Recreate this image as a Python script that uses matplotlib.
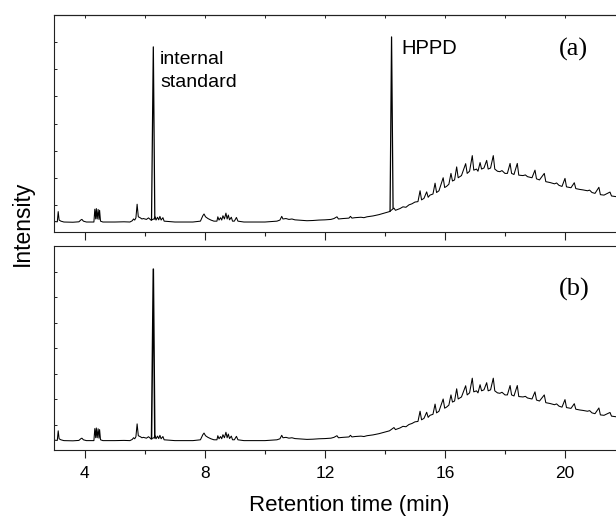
import matplotlib
matplotlib.use('Agg')
import matplotlib.pyplot as plt
from matplotlib.ticker import MultipleLocator, FixedLocator, NullFormatter

plt.rcParams['font.family'] = ['Liberation Sans', 'DejaVu Sans']

# chromatogram trace shared by both runs (retention time, relative intensity)
trace_t = [3.0, 3.08, 3.11, 3.14, 3.2, 3.3, 3.6, 3.8, 3.87, 3.9, 3.95, 4.05,
           4.3, 4.33, 4.36, 4.38, 4.41, 4.44, 4.47, 4.49, 4.52, 4.6, 5.0, 5.3,
           5.5, 5.58, 5.62, 5.66, 5.7, 5.74, 5.78, 5.85, 5.9, 5.95, 6.05, 6.12,
           6.2, 6.3, 6.34, 6.37, 6.42, 6.46, 6.5, 6.54, 6.6, 6.64, 6.8, 7.0,
           7.3, 7.6, 7.85, 7.93, 7.97, 8.02, 8.1, 8.2, 8.3, 8.4, 8.43, 8.47,
           8.52, 8.56, 8.6, 8.65, 8.7, 8.74, 8.78, 8.82, 8.88, 8.92, 8.98, 9.05,
           9.1, 9.3, 9.6, 10.0, 10.2, 10.4, 10.5, 10.56, 10.6, 10.7, 10.8, 10.9,
           11.0, 11.2, 11.4, 11.6, 11.8, 12.0, 12.2, 12.3, 12.4, 12.45, 12.6, 12.8,
           12.85, 12.9, 13.0, 13.2, 13.3, 13.4, 13.6, 13.8, 14.0, 14.15, 14.3, 14.35,
           14.5, 14.6, 14.7, 14.8, 14.9, 15.0, 15.1, 15.17, 15.22, 15.3, 15.39, 15.44,
           15.5, 15.6, 15.67, 15.72, 15.8, 15.94, 15.99, 16.05, 16.13, 16.2, 16.25, 16.32,
           16.39, 16.44, 16.55, 16.69, 16.74, 16.82, 16.91, 16.96, 17.05, 17.1, 17.17, 17.22,
           17.3, 17.39, 17.44, 17.52, 17.61, 17.66, 17.75, 17.83, 17.9, 18.0, 18.08, 18.17,
           18.22, 18.3, 18.41, 18.46, 18.6, 18.68, 18.75, 18.9, 19.0, 19.05, 19.15, 19.31,
           19.36, 19.5, 19.65, 19.72, 19.8, 19.9, 20.0, 20.05, 20.2, 20.31, 20.36, 20.5,
           20.6, 20.75, 20.82, 20.9, 21.0, 21.13, 21.18, 21.3, 21.5, 21.55, 21.7]
trace_y = [0.048, 0.047, 0.094, 0.055, 0.05, 0.046, 0.045, 0.047, 0.056, 0.058, 0.05, 0.046,
           0.046, 0.105, 0.06, 0.108, 0.06, 0.104, 0.058, 0.1, 0.05, 0.046, 0.046, 0.047,
           0.046, 0.052, 0.06, 0.055, 0.065, 0.128, 0.07, 0.065, 0.06, 0.062, 0.058, 0.065,
           0.055, 0.06, 0.07, 0.055, 0.068, 0.056, 0.072, 0.055, 0.066, 0.05, 0.048, 0.046,
           0.046, 0.046, 0.05, 0.075, 0.083, 0.07, 0.062, 0.055, 0.05, 0.05, 0.07, 0.055,
           0.066, 0.055, 0.075, 0.06, 0.087, 0.06, 0.078, 0.056, 0.068, 0.05, 0.05, 0.067,
           0.05, 0.046, 0.046, 0.046, 0.048, 0.05, 0.055, 0.072, 0.06, 0.062, 0.058, 0.06,
           0.056, 0.054, 0.052, 0.053, 0.055, 0.056, 0.058, 0.062, 0.07, 0.06, 0.062, 0.064,
           0.072, 0.064, 0.066, 0.068, 0.066, 0.07, 0.074, 0.08, 0.088, 0.094, 0.11, 0.1,
           0.108, 0.116, 0.114, 0.125, 0.13, 0.138, 0.14, 0.19, 0.148, 0.155, 0.185, 0.16,
           0.17, 0.175, 0.225, 0.182, 0.19, 0.25, 0.205, 0.21, 0.22, 0.27, 0.235, 0.24,
           0.3, 0.25, 0.26, 0.315, 0.27, 0.28, 0.352, 0.285, 0.29, 0.28, 0.32, 0.29,
           0.295, 0.33, 0.29, 0.295, 0.352, 0.29, 0.28, 0.278, 0.283, 0.27, 0.27, 0.316,
           0.27, 0.265, 0.316, 0.262, 0.26, 0.263, 0.255, 0.25, 0.285, 0.245, 0.24, 0.27,
           0.232, 0.228, 0.222, 0.226, 0.215, 0.21, 0.247, 0.208, 0.204, 0.227, 0.2, 0.196,
           0.194, 0.19, 0.193, 0.182, 0.178, 0.206, 0.172, 0.17, 0.184, 0.166, 0.163]

# tall peaks
is_t = [6.22, 6.28, 6.33]
is_a = [0.055, 0.853, 0.06]
is_b = [0.055, 0.887, 0.06]
hppd_t = [14.17, 14.22, 14.27]
hppd_a = [0.095, 0.899, 0.11]

W, H = 616, 516
fig = plt.figure(figsize=(W / 100, H / 100), dpi=100)
left = 54 / W
ax1 = fig.add_axes([left, 1 - 232 / H, 1 - left, 217 / H])
ax2 = fig.add_axes([left, 1 - 450 / H, 1 - left, 204 / H])

for ax in (ax1, ax2):
    ax.plot(trace_t, trace_y, color='black', lw=0.75)
    ax.set_xlim(2.97, 21.7)
    ax.set_ylim(0, 1)
    ax.spines['right'].set_visible(False)
    for s in ('left', 'top', 'bottom'):
        ax.spines[s].set_linewidth(0.8)
        ax.spines[s].set_color('#222222')
    ax.xaxis.set_major_locator(MultipleLocator(4))
    ax.xaxis.set_minor_locator(MultipleLocator(2))
    ax.yaxis.set_major_locator(FixedLocator([k / 8 for k in range(1, 8)]))
    ax.yaxis.set_major_formatter(NullFormatter())
    ax.tick_params(axis='y', which='both', direction='in', length=2, width=0.7,
                   left=True, right=False, color='#222222')
    ax.tick_params(axis='x', which='major', direction='out', length=5.8, width=0.8,
                   color='#222222', labelsize=12.5, pad=6)
    ax.tick_params(axis='x', which='minor', direction='out', length=3.2, width=0.8,
                   color='#222222')

ax1.plot(is_t, is_a, color='black', lw=0.9)
ax1.plot(hppd_t, hppd_a, color='black', lw=0.9)
ax2.plot(is_t, is_b, color='black', lw=1.1)

ax1.tick_params(axis='x', which='both', labelbottom=False)

# small inward ticks along the top edge of panel (a)
sec = ax1.secondary_xaxis('top')
sec.xaxis.set_major_locator(MultipleLocator(2))
sec.tick_params(direction='in', length=2, width=0.7, labeltop=False, color='#222222')
sec.spines['top'].set_linewidth(0.8)
sec.spines['top'].set_color('#222222')

ax1.text(6.5, 0.743, 'internal\nstandard', fontsize=14, va='center', ha='left',
         linespacing=1.45)
ax1.text(14.56, 0.847, 'HPPD', fontsize=14.5, va='center', ha='left')
ax1.text(19.81, 0.843, '(a)', fontsize=19, va='center', ha='left',
         family='Liberation Serif')
ax2.text(19.81, 0.789, '(b)', fontsize=19, va='center', ha='left',
         family='Liberation Serif')

fig.text(22 / W, 1 - 223 / H, 'Intensity', rotation=90, fontsize=16.5,
         va='center', ha='center')
fig.text(349.5 / W, 1 - 511 / H, 'Retention time (min)', fontsize=16,
         va='baseline', ha='center')

fig.savefig('out.png', dpi=100)
